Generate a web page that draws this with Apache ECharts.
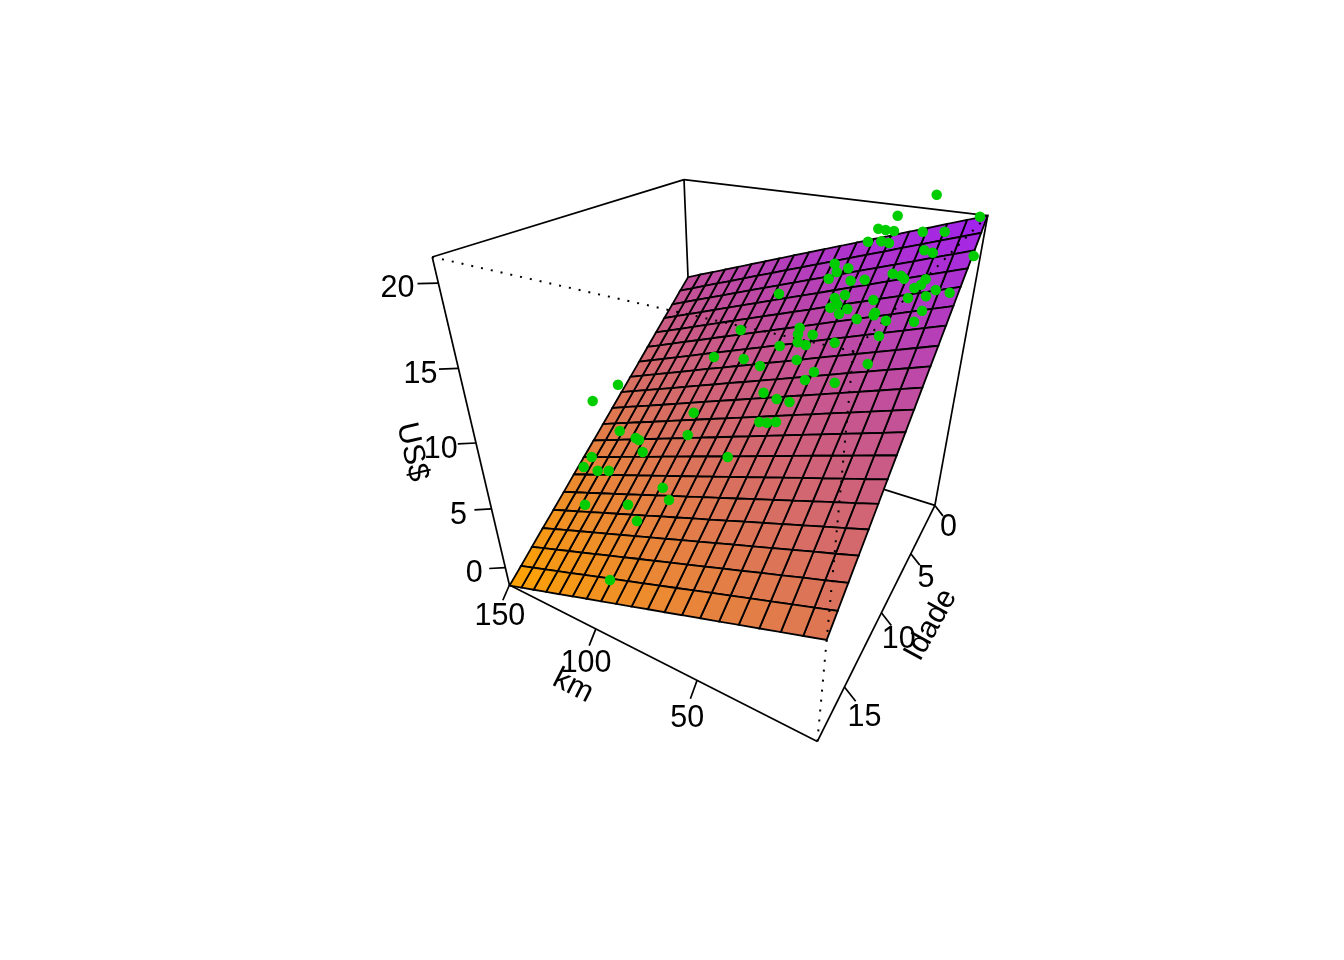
<!DOCTYPE html><html><head><meta charset="utf-8">
<script src="https://cdn.jsdelivr.net/npm/echarts@6/dist/echarts.min.js"></script>
<style>html,body{margin:0;background:#fff}#c{width:1344px;height:960px}</style></head><body><div id="c"></div><script>
// axis ranges and ticks
const kmRange=[0,150], idadeRange=[0,18], priceRange=[-1.6,21.4];
const kmTicks=[50,100,150], idadeTicks=[0,5,10,15], priceTicks=[0,5,10,15,20];
// surface grid
const kmGrid=[0,7.89,15.79,23.68,31.58,39.47,47.37,55.26,63.16,71.05,78.95,86.84,94.74,102.63,110.53,118.42,126.32,134.21,142.11,150];
const idadeGrid=[0,0.95,1.89,2.84,3.79,4.74,5.68,6.63,7.58,8.53,9.47,10.42,11.37,12.32,13.26,14.21,15.16,16.11,17.05,18];
const priceNewByKm=[21.40,20.98,20.57,20.15,19.74,19.32,18.91,18.49,18.07,17.66,17.24,16.83,16.41,16.00,15.58,15.16,14.75,14.33,13.92,13.50];
const priceDropByIdade=[0,0.80,1.60,2.39,3.19,3.99,4.79,5.59,6.38,7.18,7.98,8.78,9.57,10.37,11.17,11.97,12.76,13.56,14.36,15.16];
// observations, read in the projected plane of the view
const pointX=[936.7,897.7,980,878.3,885.7,894,922.7,944.7,868,881.3,889,924.3,932.7,973.7,834.7,848.3,836.7,892.7,901,904,828.7,850.7,864.7,925.7,921,914.3,935.7,949.7,908,926,834.7,845,873.3,779,837.3,830.3,847.3,839,856.7,875,873.7,886,922,914,879,799.7,798,812.7,797.7,805.7,779.7,834.7,796.7,814,805,834.7,867.7,760,763.5,776.7,789.5,740.7,714,743.7,693.7,759.3,767,776,687.7,727.7,618,592.7,619.7,635.7,639,642.7,591.7,583.7,597.7,608.7,662.7,669,585,628,637,610];
const pointY=[194.7,215.7,216.7,228.7,230,231,231.7,231.7,241.7,241.3,243,250.3,252.7,256,263.7,268.3,272,273.7,275.7,278.7,278.7,280.7,279.7,279.3,284.7,288,290,292.7,298,296.3,298,295,300,293.7,304.3,307.7,309,314,319,312.7,315.3,320.7,310.7,321.7,336,327.7,334.3,334.7,342.3,345,346,342.7,360,372,380,382.7,364,366,392.7,399,402,330,357,359,412.7,422,422.7,422,435,457,384.7,401,431,438,440,452,457,467,470.7,470.7,487.7,500,504.7,504.7,521,580];
const axisTitles=['km','Idade','US$'];

const viewMatrix=[-109.976016,-388.598472,-158.647729,934.900428,5.5085,-9.876073,-335.91804,505.407404,0.188139,-0.331625,-0.214056];
const FONT='"Liberation Sans",Arial,sans-serif';
const LOW=[255,165,0], HIGH=[160,32,240];
const nu=k=>(k-kmRange[0])/(kmRange[1]-kmRange[0]);
const nv=a=>(a-idadeRange[0])/(idadeRange[1]-idadeRange[0]);
const nw=z=>(z-priceRange[0])/(priceRange[1]-priceRange[0]);
function proj(u,v,w){const p=viewMatrix,d=p[8]*u+p[9]*v+p[10]*w+1;return[(p[0]*u+p[1]*v+p[2]*w+p[3])/d,(p[4]*u+p[5]*v+p[6]*w+p[7])/d];}
const idx=a=>a.map((_,i)=>[i,i]);

// box edges in normalised axis space
const backEdges=[[0,0,1,1,0,1],[1,0,1,1,1,1],[1,0,0,1,0,1],[1,0,0,0,0,0],[1,0,0,1,1,0],[0,0,0,0,0,1],[1,1,0,1,1,1],[1,1,0,0,1,0],[0,1,0,0,0,0]];
const frontEdges=[[1,1,1,0,1,1],[0,0,1,0,1,1],[0,1,0,0,1,1]];
const edgeSeries=(edges,extra,z)=>({type:'custom',coordinateSystem:'cartesian2d',z,silent:true,data:idx(edges),
 renderItem:(params,api)=>{const e=edges[params.dataIndex],a=api.coord(proj(e[0],e[1],e[2])),b=api.coord(proj(e[3],e[4],e[5]));
  return{type:'line',shape:{x1:a[0],y1:a[1],x2:b[0],y2:b[1]},style:Object.assign({stroke:'#000',lineWidth:1.7,fill:null},extra)};}});

// surface cells
const cells=[];
for(let i=0;i<kmGrid.length-1;i++)for(let j=0;j<idadeGrid.length-1;j++)cells.push([i,j]);
const price=(i,j)=>priceNewByKm[i]-priceDropByIdade[j];
const zHi=price(0,0), zLo=price(kmGrid.length-1,idadeGrid.length-1);
function cellColor(i,j){const m=(price(i,j)+price(i+1,j)+price(i,j+1)+price(i+1,j+1))/4,t=(m-zLo)/(zHi-zLo);
 return'rgb('+LOW.map((c,k)=>Math.round(c+(HIGH[k]-c)*t)).join(',')+')';}
const surface={type:'custom',coordinateSystem:'cartesian2d',z:3,silent:true,data:idx(cells),
 renderItem:(params,api)=>{const[i,j]=cells[params.dataIndex];
  const pts=[[i,j],[i+1,j],[i+1,j+1],[i,j+1]].map(([a,b])=>api.coord(proj(nu(kmGrid[a]),nv(idadeGrid[b]),nw(price(a,b)))));
  return{type:'polygon',shape:{points:pts},style:{fill:cellColor(i,j),stroke:'#000',lineWidth:1.8}};}};

// ticks + labels
const S=0.033;
const ticks=[...kmTicks.map(k=>({l:String(k),b:[nu(k),1,0],d:[0,S,-S],n:[4,0.3]})),
 ...idadeTicks.map(a=>({l:String(a),b:[0,nv(a),0],d:[-S,0,-S],n:[-3,1]})),
 ...priceTicks.map(z=>({l:String(z),b:[1,1,nw(z)],d:[0.038,0.026,0],n:[2,4.5]}))];
const at=(t,f)=>proj(t.b[0]+f*t.d[0],t.b[1]+f*t.d[1],t.b[2]+f*t.d[2]);
const tickSeries={type:'custom',coordinateSystem:'cartesian2d',z:2,silent:true,data:idx(ticks),
 renderItem:(params,api)=>{const t=ticks[params.dataIndex],a=api.coord(at(t,0)),b=api.coord(at(t,1)),c=api.coord(at(t,2.05));
  return{type:'group',children:[
   {type:'line',shape:{x1:a[0],y1:a[1],x2:b[0],y2:b[1]},style:{stroke:'#000',lineWidth:1.7}},
   {type:'text',x:c[0]+t.n[0],y:c[1]+t.n[1],style:{text:t.l,font:'30.5px '+FONT,fill:'#000',textAlign:'center',textVerticalAlign:'middle'}}]};}};
// axis titles sit at a fixed offset from their axes
const titleLayout=[{x:573,y:686,deg:-27},{x:931,y:625,deg:61},{x:412,y:452,deg:-77}];
const titleSeries={type:'custom',coordinateSystem:'cartesian2d',z:6,silent:true,data:idx(axisTitles),
 renderItem:(params,api)=>{const i=params.dataIndex,t=titleLayout[i],c=api.coord([t.x,t.y]);
  return{type:'text',x:c[0],y:c[1],rotation:t.deg*Math.PI/180,style:{text:axisTitles[i],font:'30.5px '+FONT,fill:'#000',textAlign:'center',textVerticalAlign:'middle'}};}};

const ch=echarts.init(document.getElementById('c'));
ch.setOption({animation:false,backgroundColor:'#fff',
 xAxis:{type:'value',min:0,max:1344,show:false},yAxis:{type:'value',min:0,max:960,inverse:true,show:false},
 grid:{left:0,right:0,top:0,bottom:0},
 series:[edgeSeries(backEdges,{},1),surface,tickSeries,edgeSeries(frontEdges,{lineDash:[2,8],lineWidth:2},4),titleSeries,
  {type:'scatter',z:8,silent:true,symbol:'circle',symbolSize:10.5,itemStyle:{color:'#00CD00',opacity:1},data:pointX.map((x,i)=>[x,pointY[i]])}]});
</script></body></html>
